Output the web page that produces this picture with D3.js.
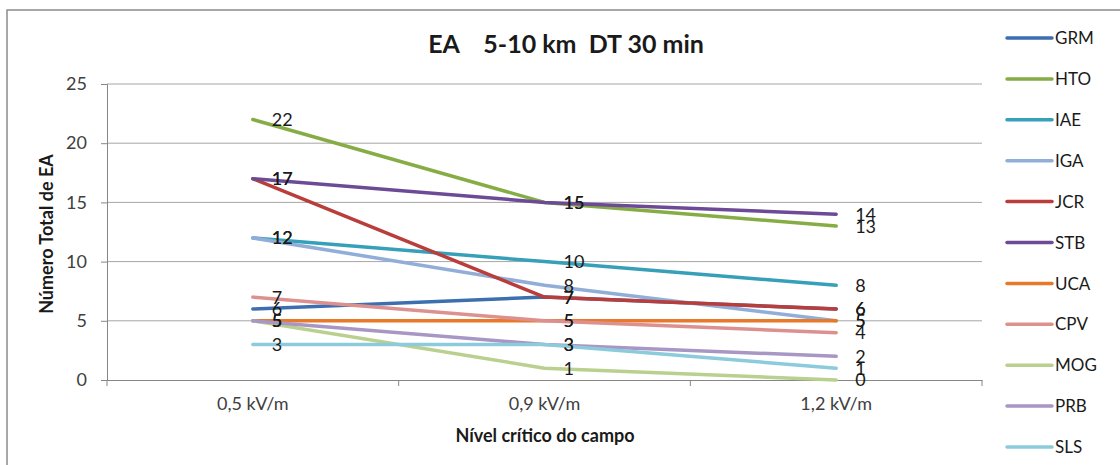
<!DOCTYPE html>
<html>
<head>
<meta charset="utf-8">
<script src="https://cdn.jsdelivr.net/npm/d3@7"></script>
<style>
  html, body { margin: 0; padding: 0; background: #fff; }
  svg { display: block; }
  text { font-family: Lato, "Open Sans", sans-serif; }
</style>
</head>
<body>
<svg id="chart" width="1120" height="465"></svg>
<script>
const categories = ["0,5 kV/m", "0,9 kV/m", "1,2 kV/m"];
const seriesNames = ["GRM", "HTO", "IAE", "IGA", "JCR", "STB", "UCA", "CPV", "MOG", "PRB", "SLS"];
const GRM = [6, 7, 6];
const HTO = [22, 15, 13];
const IAE = [12, 10, 8];
const IGA = [12, 8, 5];
const JCR = [17, 7, 6];
const STB = [17, 15, 14];
const UCA = [5, 5, 5];
const CPV = [7, 5, 4];
const MOG = [5, 1, 0];
const PRB = [5, 3, 2];
const SLS = [3, 3, 1];
const yTicks = [0, 5, 10, 15, 20, 25];
const colors = ["#3d6fb0", "#86ad45", "#35a0b8", "#90aed8", "#b83d3b", "#6c4a96",
                "#e8792b", "#dc918f", "#b9d08e", "#a896c4", "#8ccbdc"];

(function () {
const seriesValues = [GRM, HTO, IAE, IGA, JCR, STB, UCA, CPV, MOG, PRB, SLS];
const series = seriesNames.map((n, i) => ({ name: n, values: seriesValues[i], color: colors[i] }));

const svg = d3.select("#chart");
const pLeft = 107, pRight = 982, pTop = 84, pBottom = 380;

// outer frame
svg.append("rect").attr("x", 7).attr("y", 10).attr("width", 1130).attr("height", 470)
  .attr("fill", "none").attr("stroke", "#8c8c8c").attr("stroke-width", 1.5);

const x = d3.scaleBand().domain(categories).range([pLeft, pRight]).paddingInner(0).paddingOuter(0);
const y = d3.scaleLinear().domain([0, 25]).range([pBottom, pTop]);
const cx = c => x(c) + x.bandwidth() / 2;

// gridlines
svg.append("g").selectAll("line").data(yTicks.filter(t => t > 0)).join("line")
  .attr("x1", pLeft).attr("x2", pRight)
  .attr("y1", d => y(d)).attr("y2", d => y(d))
  .attr("stroke", "#a6a6a6").attr("stroke-width", 1);

// y axis
const yAxis = svg.append("g").attr("transform", `translate(${pLeft},0)`)
  .call(d3.axisLeft(y).tickValues(yTicks).tickSize(6).tickPadding(14));
yAxis.select(".domain").attr("stroke", "#868686");
yAxis.selectAll(".tick line").attr("stroke", "#868686");
yAxis.selectAll(".tick text").attr("font-size", 18).attr("fill", "#404040")
  .attr("font-family", "Lato, sans-serif");

// x axis
const xAxis = svg.append("g").attr("transform", `translate(0,${pBottom})`)
  .call(d3.axisBottom(x).tickSize(0).tickPadding(17));
xAxis.select(".domain").attr("stroke", "#868686");
xAxis.selectAll(".tick text").attr("font-size", 18).attr("fill", "#404040")
  .attr("font-family", "Lato, sans-serif");
const bounds = categories.map(c => x(c)).concat([x(categories[categories.length - 1]) + x.bandwidth()]);
xAxis.selectAll(".bt").data(bounds).join("line").attr("class", "bt")
  .attr("x1", d => d).attr("x2", d => d).attr("y1", 0).attr("y2", 6)
  .attr("stroke", "#868686");

// lines
const line = d3.line().x((d, i) => cx(categories[i])).y(d => y(d));
svg.append("g").selectAll("path").data(series).join("path")
  .attr("d", d => line(d.values))
  .attr("fill", "none").attr("stroke", d => d.color)
  .attr("stroke-width", 3.5).attr("stroke-linejoin", "round").attr("stroke-linecap", "round");

// data labels
const lg = svg.append("g");
series.forEach(s => {
  s.values.forEach((v, i) => {
    lg.append("text").attr("x", cx(categories[i]) + 19).attr("y", y(v))
      .attr("dy", "0.36em").attr("font-size", 18).attr("fill", "#1a1a1a").text(v);
  });
});

// title
svg.append("text").attr("x", 566).attr("y", 53).attr("text-anchor", "middle")
  .attr("font-size", 25).attr("font-weight", "bold").attr("fill", "#1a1a1a")
  .style("white-space", "pre")
  .text("EA    5-10 km  DT 30 min");

// axis titles
svg.append("text").attr("transform", "translate(53,234) rotate(-90)")
  .attr("text-anchor", "middle").attr("font-size", 18).attr("font-weight", "bold")
  .attr("fill", "#1a1a1a").text("Número Total de EA");
svg.append("text").attr("x", 545).attr("y", 442).attr("text-anchor", "middle")
  .attr("font-size", 18).attr("font-weight", "bold").attr("fill", "#1a1a1a")
  .text("Nível crítico do campo");

// legend
const leg = svg.append("g").selectAll("g").data(series).join("g")
  .attr("transform", (d, i) => `translate(1007,${38 + i * 40.9})`);
leg.append("line").attr("x1", 0).attr("x2", 45).attr("y1", 0).attr("y2", 0)
  .attr("stroke", d => d.color).attr("stroke-width", 3.5).attr("stroke-linecap", "round");
leg.append("text").attr("x", 48).attr("y", 0).attr("dy", "0.36em")
  .attr("font-size", 17).attr("fill", "#1a1a1a").text(d => d.name);
})();
</script>
</body>
</html>
